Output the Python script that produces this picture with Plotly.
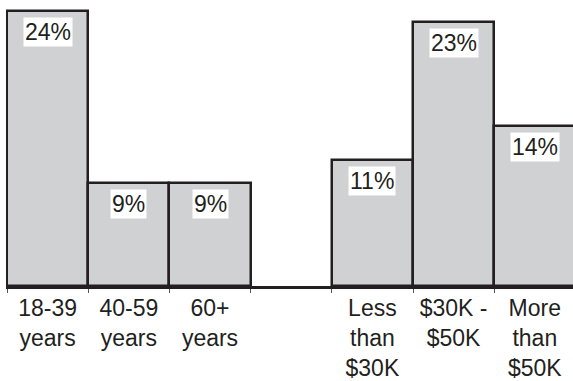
import plotly.graph_objects as go

# Survey shares by age group and household income; the blank category separates the two groups
categories = ["18-39<br>years", "40-59<br>years", "60+<br>years", " ",
              "Less<br>than<br>$30K", "$30K -<br>$50K", "More<br>than<br>$50K"]
values = [24, 9, 9, None, 11, 23, 14]
labels = ["24%", "9%", "9%", "", "11%", "23%", "14%"]

ink = "#231f20"
font_family = "Liberation Sans, Arial, sans-serif"
font_size = 23

fig = go.Figure(
    go.Bar(
        x=categories,
        y=values,
        marker=dict(color="#d0d1d3", line=dict(color=ink, width=2.5)),
        width=1,
        hoverinfo="skip",
    )
)

# Value labels in white boxes just under the top of each bar
for cat, val, lab in zip(categories, values, labels):
    if val is None:
        continue
    fig.add_annotation(
        x=cat, y=val, text=lab, showarrow=False,
        yanchor="top", yshift=-6,
        bgcolor="white", borderpad=1,
        font=dict(family=font_family, size=font_size, color=ink),
    )

# 81.2 px per category, first bar edge 1 px inside the plot area
px_per_cat = 81.2
fig.update_layout(
    width=573, height=381,
    margin=dict(l=6, r=0, t=6, b=93),
    paper_bgcolor="white", plot_bgcolor="white",
    bargap=0, showlegend=False,
    font=dict(family=font_family, size=font_size, color=ink),
)
fig.update_xaxes(
    type="category",
    range=[-0.5 - 1 / px_per_cat, -0.5 + 566 / px_per_cat],
    showline=True, linecolor=ink, linewidth=2.5,
    ticks="outside", tickson="boundaries", ticklen=4, tickcolor="#555555", tickwidth=1,
    showgrid=False, zeroline=False,
    tickfont=dict(family=font_family, size=font_size, color=ink),
)
fig.update_yaxes(
    range=[0, 282 / 11.54],
    visible=False, showgrid=False, zeroline=False,
)

fig.write_html("out.html")
